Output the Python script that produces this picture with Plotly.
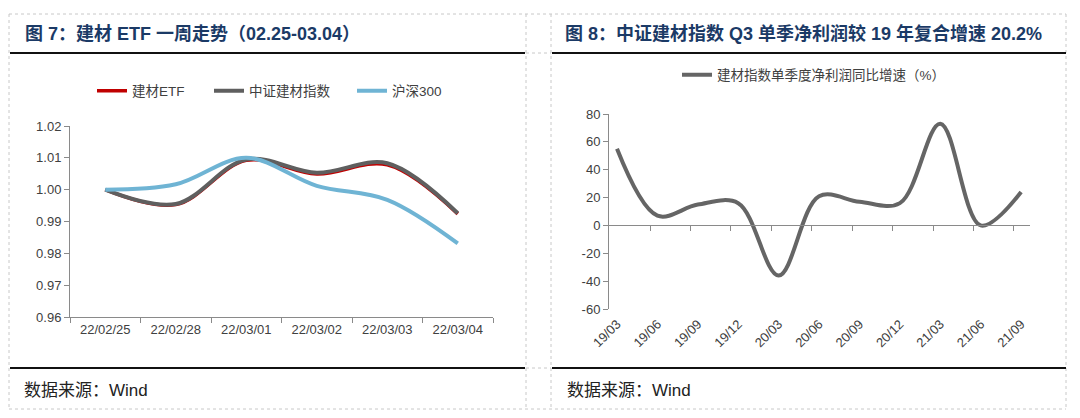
import plotly.graph_objects as go

# ---------------- data ----------------
dates = ["22/02/25", "22/02/28", "22/03/01", "22/03/02", "22/03/03", "22/03/04"]
etf = [1.0000, 0.9953, 1.0092, 1.0049, 1.0078, 0.9924]
csi_bm = [1.0000, 0.9955, 1.0095, 1.0053, 1.0083, 0.9926]
hs300 = [1.0000, 1.0017, 1.0100, 1.0012, 0.9968, 0.9831]

quarters = ["19/03", "19/06", "19/09", "19/12", "20/03", "20/06",
            "20/09", "20/12", "21/03", "21/06", "21/09"]
profit_yoy = [55, 7, 15, 16, -36, 21, 17, 16, 73, 0, 24]

left_yticks = [0.96, 0.97, 0.98, 0.99, 1.00, 1.01, 1.02]
right_yticks = [-60, -40, -20, 0, 20, 40, 60, 80]
right_yticktext = ["-60", "-40", "-20", "0", "20", "40", "60", "80"]

title_left = "图 7：建材 ETF 一周走势（02.25-03.04）"
title_right = "图 8：中证建材指数 Q3 单季净利润较 19 年复合增速 20.2%"
source_text = "数据来源：Wind"

W, H = 1080, 418
OX, OY = 8, 8   # page (body margin) offset compensation
def xp(px):
    return (px - OX) / W
def yp(py):
    return 1 - (py - OY) / H

FONT = "Liberation Sans, Arial, Noto Sans CJK SC, sans-serif"
TICKC = "#404040"
AXC = "#8a8a8a"

fig = go.Figure()

# left chart
fig.add_trace(go.Scatter(x=dates, y=etf, name="建材ETF", mode="lines",
                         line=dict(color="#C00000", width=3.5, shape="spline", smoothing=1),
                         xaxis="x", yaxis="y", legend="legend"))
fig.add_trace(go.Scatter(x=dates, y=csi_bm, name="中证建材指数", mode="lines",
                         line=dict(color="#5f5f5f", width=4, shape="spline", smoothing=1),
                         xaxis="x", yaxis="y", legend="legend2"))
fig.add_trace(go.Scatter(x=dates, y=hs300, name="沪深300", mode="lines",
                         line=dict(color="#6FB4D4", width=4, shape="spline", smoothing=1),
                         xaxis="x", yaxis="y", legend="legend3"))

# right chart
fig.add_trace(go.Scatter(x=quarters, y=profit_yoy, name="建材指数单季度净利润同比增速（%）",
                         mode="lines",
                         line=dict(color="#656565", width=4, shape="spline", smoothing=1),
                         xaxis="x2", yaxis="y2", legend="legend4"))
# helper (empty) trace so the zero-line axis is drawn
fig.add_trace(go.Scatter(x=[None], y=[None], xaxis="x3", yaxis="y2",
                         showlegend=False, hoverinfo="skip"))

tickfont = dict(family=FONT, size=13, color=TICKC)

left_x0, left_x1 = 70, 493
left_ytop, left_ybot = 126, 317
right_x0, right_x1 = 609, 1030
right_ytop, right_ybot = 114, 309
r_lo, r_hi = -0.198, 10.22
zero_frac = yp(right_ytop + (80 - 0) / 140 * (right_ybot - right_ytop))

legend_common = dict(orientation="h", xanchor="left", yanchor="middle",
                     bgcolor="rgba(0,0,0,0)", borderwidth=0,
                     font=dict(family=FONT, size=13.5, color="#404040"))

fig.update_layout(
    width=W, height=H,
    margin=dict(l=0, r=0, t=0, b=0, pad=0, autoexpand=False),
    paper_bgcolor="white", plot_bgcolor="white",
    showlegend=True,
    xaxis=dict(type="category", domain=[xp(left_x0), xp(left_x1)], anchor="y",
               range=[-0.5, 5.5], showline=True, linecolor=AXC, linewidth=1,
               ticks="outside", tickson="boundaries", ticklen=5, tickcolor=AXC,
               showgrid=False, zeroline=False, tickfont=tickfont, automargin=False),
    yaxis=dict(domain=[yp(left_ybot), yp(left_ytop)], anchor="x",
               range=[0.96, 1.02], tickvals=left_yticks, tickformat=".2f",
               showline=True, linecolor=AXC, linewidth=1, ticks="outside",
               ticklen=5, tickcolor=AXC, showgrid=False, zeroline=False,
               tickfont=tickfont, automargin=False),
    xaxis2=dict(type="category", domain=[xp(right_x0), xp(right_x1)], anchor="y2",
                range=[r_lo, r_hi], showline=False, ticks="", tickangle=-45,
                ticklabelstandoff=4, automargin=False,
                showgrid=False, zeroline=False, tickfont=tickfont),
    xaxis3=dict(type="linear", overlaying="x2", anchor="free", position=zero_frac,
                domain=[xp(right_x0), xp(right_x1)], automargin=False,
                range=[r_lo, r_hi], showline=True, linecolor=AXC, linewidth=1,
                ticks="outside", ticklen=5, tickcolor=AXC,
                tickvals=[k - 0.18 for k in range(1, len(quarters))],
                showticklabels=False, showgrid=False, zeroline=False),
    yaxis2=dict(domain=[yp(right_ybot), yp(right_ytop)], anchor="x2",
                range=[-60, 80], tickvals=right_yticks, ticktext=right_yticktext,
                showline=True, linecolor=AXC, linewidth=1, ticks="outside",
                ticklen=5, tickcolor=AXC, showgrid=False, zeroline=False,
                tickfont=tickfont, automargin=False),
    legend=dict(x=xp(92), y=yp(91), **legend_common),
    legend2=dict(x=xp(209), y=yp(91), **legend_common),
    legend3=dict(x=xp(352), y=yp(91), **legend_common),
    legend4=dict(x=xp(677), y=yp(75), **{**legend_common,
                 "font": dict(family=FONT, size=13.5, color="#404040")}),
)

# titles and sources
for x0, txt in [(23, title_left), (563, title_right)]:
    fig.add_annotation(x=xp(x0), y=yp(34), xref="paper", yref="paper",
                       text="<b>" + txt + "</b>", showarrow=False,
                       xanchor="left", yanchor="middle",
                       font=dict(family=FONT, size=18, color="#1b3a66"))
for x0 in (22, 565):
    fig.add_annotation(x=xp(x0), y=yp(390), xref="paper", yref="paper",
                       text=source_text, showarrow=False,
                       xanchor="left", yanchor="middle",
                       font=dict(family=FONT, size=17, color="#222222"))

# frame: dashed cell borders and solid black rules
dash_c = "#c8c8c8"
def hline(y, x0, x1, color, width, dash):
    fig.add_shape(type="line", xref="paper", yref="paper",
                  x0=xp(x0), x1=xp(x1), y0=yp(y), y1=yp(y),
                  line=dict(color=color, width=width, dash=dash))
def vline(x, y0, y1, color, width, dash):
    fig.add_shape(type="line", xref="paper", yref="paper",
                  x0=xp(x), x1=xp(x), y0=yp(y0), y1=yp(y1),
                  line=dict(color=color, width=width, dash=dash))

hline(14, 9, 1066, dash_c, 1, "dot")
hline(409, 9, 1066, dash_c, 1, "dot")
hline(53, 526, 551, dash_c, 1, "dot")
hline(368, 526, 551, dash_c, 1, "dot")
for x in (9, 526, 551, 1066):
    vline(x, 14, 409, dash_c, 1, "dot")
for (a, b) in [(10, 525), (552, 1066)]:
    hline(53, a, b, "#111111", 2, "solid")
    hline(368, a, b, "#111111", 2, "solid")

fig.write_html("out.html")
